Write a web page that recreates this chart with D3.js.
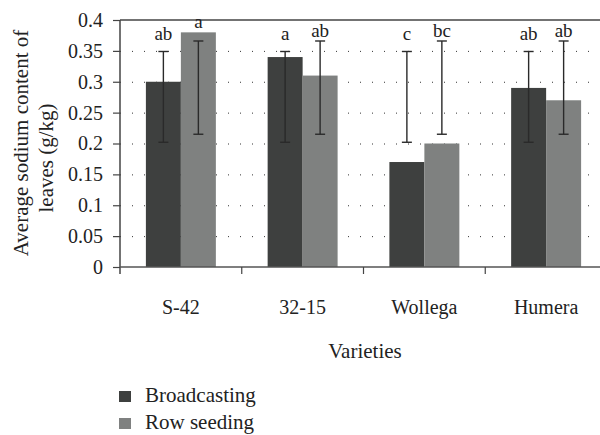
<!DOCTYPE html>
<html>
<head>
<meta charset="utf-8">
<script src="https://cdn.jsdelivr.net/npm/d3@7"></script>
<style>
  body { margin: 0; background: #fff; }
  text { font-family: "Liberation Serif", "Times New Roman", "DejaVu Serif", serif; fill: #222; }
</style>
</head>
<body>
<svg id="drawing_region"></svg>
<script>
// data
const categories = ["S-42", "32-15", "Wollega", "Humera"];
const seriesNames = ["Broadcasting", "Row seeding"];
const broadcasting = [0.30, 0.34, 0.17, 0.29];
const rowSeeding = [0.38, 0.31, 0.20, 0.27];
const broadcastingErrLow = [0.202, 0.202, 0.202, 0.202];
const broadcastingErrHigh = [0.349, 0.349, 0.349, 0.349];
const rowSeedingErrLow = [0.215, 0.215, 0.215, 0.215];
const rowSeedingErrHigh = [0.366, 0.366, 0.366, 0.366];
const broadcastingLetters = ["ab", "a", "c", "ab"];
const rowSeedingLetters = ["a", "ab", "bc", "ab"];
const yTicks = [0, 0.05, 0.1, 0.15, 0.2, 0.25, 0.3, 0.35, 0.4];
const yTickLabels = ["0", "0.05", "0.1", "0.15", "0.2", "0.25", "0.3", "0.35", "0.4"];
const colors = ["#3e403f", "#7f8180"];
const letterGap = [11, 4];

const width = 600, height = 435;
const plot = { left: 120, right: 607, top: 20, bottom: 267 };

const rows = [];
categories.forEach((c, i) => {
    rows.push({ cat: c, s: 0, series: seriesNames[0], value: broadcasting[i], lo: broadcastingErrLow[i], hi: broadcastingErrHigh[i], letter: broadcastingLetters[i] });
    rows.push({ cat: c, s: 1, series: seriesNames[1], value: rowSeeding[i], lo: rowSeedingErrLow[i], hi: rowSeedingErrHigh[i], letter: rowSeedingLetters[i] });
});

const svg = d3.select("#drawing_region")
    .attr("width", width)
    .attr("height", height);

const xscale = d3.scaleBand()
    .domain(categories)
    .range([plot.left, plot.right])
    .padding(0);

const xsub = d3.scaleBand()
    .domain(seriesNames)
    .range([0, xscale.step()])
    .paddingInner(0)
    .paddingOuter(0.74);

const yscale = d3.scaleLinear()
    .domain([0, 0.4])
    .range([plot.bottom, plot.top]);

// dotted grid lines
svg.append("g")
    .selectAll("line")
    .data(yTicks.filter(t => t > 0 && t < 0.4))
    .join("line")
    .attr("x1", plot.left)
    .attr("x2", width)
    .attr("y1", d => yscale(d) + 0.5)
    .attr("y2", d => yscale(d) + 0.5)
    .attr("stroke", "#333")
    .attr("stroke-width", 1)
    .attr("stroke-dasharray", "1,11");

// frame top line
svg.append("line")
    .attr("x1", plot.left).attr("x2", width)
    .attr("y1", yscale(0.4)).attr("y2", yscale(0.4))
    .attr("stroke", "#444")
    .attr("stroke-width", 1.5);

// bars
svg.append("g")
    .selectAll("rect")
    .data(rows)
    .join("rect")
    .attr("x", d => xscale(d.cat) + xsub(d.series))
    .attr("y", d => yscale(d.value))
    .attr("width", xsub.bandwidth())
    .attr("height", d => yscale(0) - yscale(d.value))
    .attr("fill", d => colors[d.s]);

// y axis
const yaxis = d3.axisLeft(yscale)
    .tickValues(yTicks)
    .tickFormat((d, i) => yTickLabels[i])
    .tickSize(7)
    .tickSizeOuter(0)
    .tickPadding(10);

const yg = svg.append("g")
    .attr("transform", `translate(${plot.left}, 0)`)
    .call(yaxis);
yg.select(".domain").remove();
yg.selectAll(".tick line").attr("stroke", "#444").attr("stroke-width", 1.2);
yg.selectAll(".tick text")
    .style("font-size", "20px")
    .attr("fill", "#222");

svg.append("line")
    .attr("x1", plot.left).attr("x2", plot.left)
    .attr("y1", plot.top).attr("y2", plot.bottom + 7)
    .attr("stroke", "#444")
    .attr("stroke-width", 1.5);

// x axis
const xaxis = d3.axisBottom(xscale)
    .tickSize(0)
    .tickPadding(33);

const xg = svg.append("g")
    .attr("transform", `translate(0, ${plot.bottom})`)
    .call(xaxis);
xg.select(".domain").remove();
xg.selectAll(".tick text")
    .style("font-size", "20px")
    .attr("fill", "#222");

svg.append("line")
    .attr("x1", plot.left).attr("x2", width)
    .attr("y1", plot.bottom).attr("y2", plot.bottom)
    .attr("stroke", "#555")
    .attr("stroke-width", 1.5);

svg.append("g")
    .selectAll("line")
    .data(categories.slice(1))
    .join("line")
    .attr("x1", d => xscale(d)).attr("x2", d => xscale(d))
    .attr("y1", plot.bottom).attr("y2", plot.bottom + 7)
    .attr("stroke", "#444")
    .attr("stroke-width", 1.2);

// error bars
const errs = svg.append("g")
    .selectAll("g")
    .data(rows)
    .join("g")
    .attr("transform", d => `translate(${xscale(d.cat) + xsub(d.series) + xsub.bandwidth() / 2}, 0)`);

errs.append("line")
    .attr("y1", d => yscale(d.lo)).attr("y2", d => yscale(d.hi))
    .attr("stroke", "#2a2a2a").attr("stroke-width", 1.4);
errs.append("line")
    .attr("x1", -5).attr("x2", 5)
    .attr("y1", d => yscale(d.hi)).attr("y2", d => yscale(d.hi))
    .attr("stroke", "#2a2a2a").attr("stroke-width", 1.4);
errs.append("line")
    .attr("x1", -5).attr("x2", 5)
    .attr("y1", d => yscale(d.lo)).attr("y2", d => yscale(d.lo))
    .attr("stroke", "#2a2a2a").attr("stroke-width", 1.4);

// significance letters
errs.append("text")
    .attr("y", d => yscale(Math.max(d.value, d.hi)) - letterGap[d.s])
    .attr("text-anchor", "middle")
    .style("font-size", "19px")
    .text(d => d.letter);

// axis titles
svg.append("text")
    .attr("transform", "translate(28, 143) rotate(-90)")
    .attr("text-anchor", "middle")
    .style("font-size", "21px")
    .text("Average sodium content of");

svg.append("text")
    .attr("transform", "translate(53, 158) rotate(-90)")
    .attr("text-anchor", "middle")
    .style("font-size", "21px")
    .text("leaves (g/kg)");

svg.append("text")
    .attr("x", 365)
    .attr("y", 358)
    .attr("text-anchor", "middle")
    .style("font-size", "21px")
    .text("Varieties");

// legend
const legend = svg.append("g")
    .selectAll("g")
    .data(seriesNames)
    .join("g")
    .attr("transform", (d, i) => `translate(119, ${391 + i * 27})`);

legend.append("rect")
    .attr("width", 12)
    .attr("height", 11)
    .attr("fill", (d, i) => colors[i]);

legend.append("text")
    .attr("x", 26)
    .attr("y", 11)
    .style("font-size", "21px")
    .text(d => d);
</script>
</body>
</html>
